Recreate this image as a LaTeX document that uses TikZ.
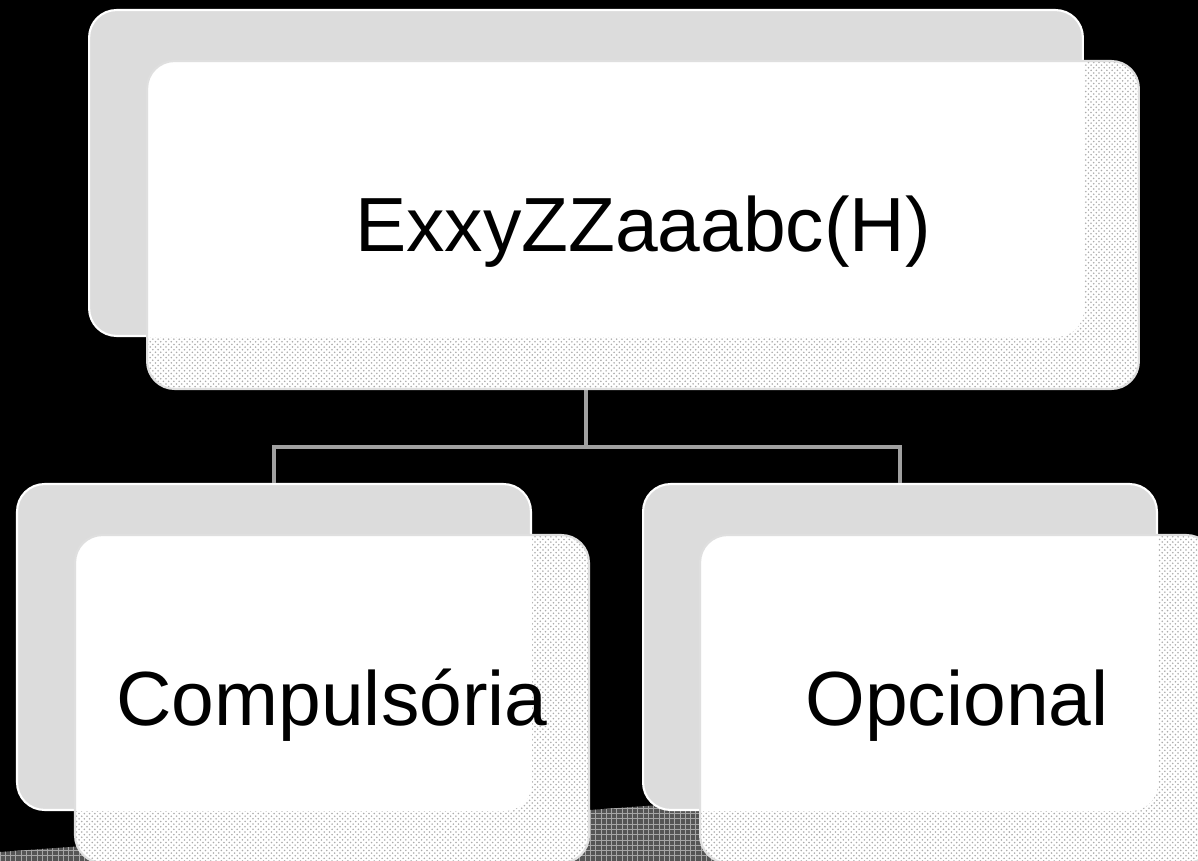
\documentclass[tikz,border=0pt]{standalone}
\usepackage{fontspec}
\setmainfont{Liberation Sans}
\usetikzlibrary{patterns}

\definecolor{backgray}{RGB}{220,220,220}
\definecolor{linegray}{RGB}{160,160,160}
\definecolor{floorgray}{RGB}{85,85,85}

\tikzset{
  backbox/.style={rectangle,rounded corners=0.55cm,draw=white,line width=1.2pt,
    fill=backgray,inner sep=0pt,minimum height=6.52cm},
  frontbox/.style={rectangle,rounded corners=0.55cm,draw=gray!25,line width=1.2pt,
    preaction={fill=white},pattern=crosshatch dots,pattern color=gray!65,
    inner sep=0pt,minimum height=6.56cm,font=\fontsize{43.7}{52}\selectfont,
    text height=30.5pt,text depth=0pt,
    path picture={\fill[white,rounded corners=0.55cm] (#1.south west) rectangle (#1.north east);}},
  connector/.style={draw=linegray,line width=2.3pt}
}

\begin{document}
\begin{tikzpicture}[x=0.02cm,y=-0.02cm]

        \fill[black] (0,0) rectangle (1198,861);
        \useasboundingbox (0,0) rectangle (1198,861);

        % floor
        \fill[floorgray] (0,861) -- (0,852) -- (660,805) -- (1198,805) -- (1198,861) -- cycle;
        \fill[pattern=grid,pattern color=gray!70] (0,861) -- (0,852) -- (660,805) -- (1198,805) -- (1198,861) -- cycle;

        \begin{scope}[every node/.style={backbox}]
          \node[minimum width=19.88cm] (topback)   at (586,173) {};
          \node[minimum width=10.28cm] (leftback)  at (274,647) {};
          \node[minimum width=10.28cm] (rightback) at (900,647) {};
        \end{scope}

        \coordinate (split) at (topback.south |- 0,447);
        \begin{scope}[every path/.style={connector}]
          \path (topback.south) -- (split);
          \path (leftback.north) |- (split) -| (rightback.north);
        \end{scope}

        \node[frontbox=topback,minimum width=19.84cm]   (top)   at (643,225) {ExxyZZaaabc(H)};
        \node[frontbox=leftback,minimum width=10.28cm]  (left)  at (332,699) {Compulsória};
        \node[frontbox=rightback,minimum width=10.28cm] (right) at (957,699) {Opcional};

      \end{tikzpicture}
\end{document}
